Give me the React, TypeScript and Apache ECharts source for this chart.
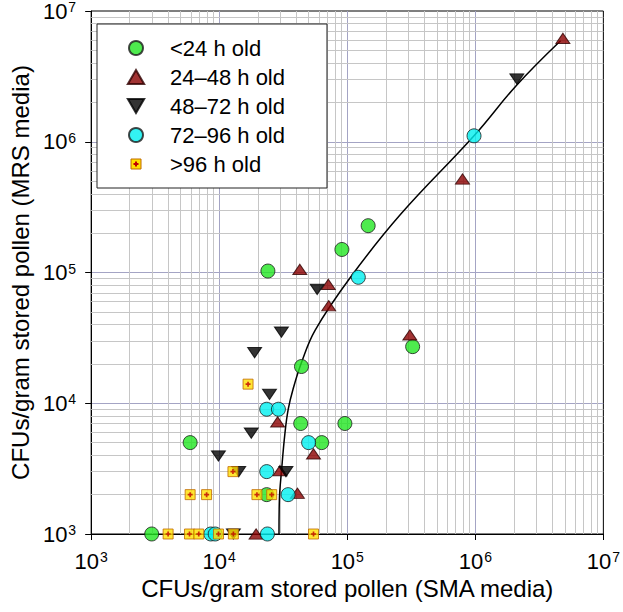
import React, { useEffect, useRef } from "react";
import * as echarts from "echarts";

const FONT = "'Liberation Sans', Arial, Helvetica, sans-serif";

// [SMA CFUs, MRS CFUs]
const lt24: [number, number][] = [
  [2970, 1000], [5930, 5000], [24000, 102600], [23500, 2000], [43900, 19100],
  [43300, 7000], [63200, 5000], [95800, 7000], [90800, 150000], [145600, 228000],
  [324000, 27100],
];
const h24_48: [number, number][] = [
  [4830000, 6180000], [794000, 519000], [308000, 33300], [42600, 105700],
  [71100, 81200], [71600, 55700], [28600, 7200], [54500, 4100], [29800, 3050],
  [40800, 2050], [19400, 1000],
];
const h48_72: [number, number][] = [
  [2110000, 3020000], [58200, 74300], [30600, 35000], [18900, 24400],
  [24700, 11700], [17800, 5900], [9860, 3950], [14200, 3000], [33200, 3000],
  [12900, 1000],
];
const h72_96: [number, number][] = [
  [977000, 1110000], [122000, 91900], [23500, 9000], [29000, 9000],
  [49900, 5000], [23500, 3000], [34500, 2000], [8600, 1000], [9300, 1000],
  [23800, 1000],
];
const gt96: [number, number][] = [
  [16800, 14000], [12800, 3000], [5930, 2000], [7970, 2000], [19700, 2000],
  [25700, 2000], [3990, 1000], [5860, 1000], [6920, 1000], [9870, 1000],
  [12900, 1000], [54500, 1000],
];
const fitCurve: [number, number][] = [
  [29300, 1000], [29500, 1820], [30700, 3080], [32600, 5890], [34600, 9000],
  [37800, 12900], [43900, 20500], [56200, 36300], [106000, 92000],
  [258000, 275000], [977000, 1110000], [2110000, 2720000], [4630000, 5930000],
];

const seriesNames = ["<24 h old", "24\u201348 h old", "48\u201372 h old", "72\u201396 h old", ">96 h old"];
const decades = [1e3, 1e4, 1e5, 1e6];
const minorMultipliers = [2, 3, 4, 5, 6, 7, 8, 9];
const minorValues: number[] = [];
decades.forEach((d) => minorMultipliers.forEach((m) => minorValues.push(d * m)));

const CROSS = "path://M-1,-3H1V-1H3V1H1V3H-1V1H-3V-1H-1Z";
const TRI_UP = "path://M7,0L14,12L0,12Z";
const TRI_DOWN = "path://M0,0L14,0L7,12Z";

const labelFmt = (v: number) => `{b|10}{s|${Math.round(Math.log10(v))}}`;
const rich = {
  b: { fontSize: 22, fontFamily: FONT, color: "#000", lineHeight: 22 },
  s: { fontSize: 14, fontFamily: FONT, color: "#000", verticalAlign: "top", lineHeight: 14, padding: [0, 0, 0, 1] },
};

export default function App() {
  const ref = useRef<HTMLDivElement>(null);
  useEffect(() => {
    document.body.style.margin = "0";
    const chart = echarts.init(ref.current!, null, { renderer: "svg" });
    const axisCommon = {
      type: "log",
      logBase: 10,
      min: 1000,
      max: 1e7,
      axisLine: { show: true, lineStyle: { color: "#000", width: 1 } },
      axisTick: { show: true, inside: false, length: 6, lineStyle: { color: "#000" } },
      splitLine: { show: true, showMinLine: false, showMaxLine: false, lineStyle: { color: "#a4a4c4", width: 1 } },
      minorTick: { show: false },
      nameLocation: "middle",
      nameTextStyle: { fontSize: 24, fontFamily: FONT, color: "#000" },
    };
    const scatterBase = { type: "scatter", z: 3, symbolKeepAspect: true };
    chart.setOption({
      animation: false,
      backgroundColor: "#fff",
      grid: { left: 87, top: 11, right: 17, bottom: 78, show: true, borderColor: "#000", borderWidth: 1, backgroundColor: "transparent" },
      xAxis: {
        ...axisCommon,
        name: "CFUs/gram stored pollen (SMA media)",
        nameGap: 36,
        axisLabel: { formatter: labelFmt, rich, margin: 16 },
      },
      yAxis: {
        ...axisCommon,
        name: "CFUs/gram stored pollen (MRS media)",
        nameGap: 57,
        axisLabel: { formatter: labelFmt, rich, margin: 15 },
      },
      legend: {
        orient: "vertical",
        left: 97,
        top: 24,
        padding: [13, 42, 13, 10],
        itemWidth: 58,
        itemHeight: 14,
        itemGap: 7,
        backgroundColor: "#fff",
        borderColor: "#222",
        borderWidth: 1,
        borderRadius: 0,
        selectedMode: false,
        textStyle: { fontSize: 22, fontFamily: FONT, color: "#000", lineHeight: 22 },
        data: [
          { name: seriesNames[0] },
          { name: seriesNames[1] },
          { name: seriesNames[2] },
          { name: seriesNames[3] },
          { name: seriesNames[4], icon: "none" },
        ],
      },
      graphic: [
        { type: "rect", z: 100, shape: { x: 131, y: 159, width: 10, height: 10 }, style: { fill: "#ffe000", stroke: "#c06a00", lineWidth: 1 } },
        { type: "rect", z: 101, shape: { x: 135, y: 161.5, width: 2, height: 5 }, style: { fill: "#c00000" } },
        { type: "rect", z: 101, shape: { x: 133.5, y: 163, width: 5, height: 2 }, style: { fill: "#c00000" } },
      ],
      series: [
        {
          type: "line",
          name: "minorGrid",
          data: [],
          z: 1,
          silent: true,
          markLine: {
            z: 1,
            silent: true,
            symbol: ["none", "none"],
            label: { show: false },
            lineStyle: { color: "#c6c6c6", width: 1, type: "solid" },
            emphasis: { disabled: true },
            data: [
              ...minorValues.map((v) => ({ xAxis: v })),
              ...minorValues.map((v) => ({ yAxis: v })),
            ],
          },
        },
        {
          type: "line",
          name: "fit",
          data: fitCurve,
          z: 2,
          silent: true,
          smooth: 0.4,
          symbol: "none",
          lineStyle: { color: "#000", width: 1.5 },
        },
        {
          ...scatterBase,
          name: seriesNames[0],
          data: lt24,
          symbol: "circle",
          symbolSize: 14,
          itemStyle: { color: "#22e622", borderColor: "#1a1a1a", borderWidth: 1 },
        },
        {
          ...scatterBase,
          name: seriesNames[1],
          data: h24_48,
          symbol: TRI_UP,
          symbolSize: [14, 12],
          itemStyle: { color: "#8b0000", borderColor: "#300000", borderWidth: 1 },
        },
        {
          ...scatterBase,
          name: seriesNames[2],
          data: h48_72,
          symbol: TRI_DOWN,
          symbolSize: [14, 12],
          itemStyle: { color: "#000", borderColor: "#000", borderWidth: 1 },
        },
        {
          ...scatterBase,
          name: seriesNames[3],
          data: h72_96,
          symbol: "circle",
          symbolSize: 14,
          itemStyle: { color: "#00f0f0", borderColor: "#1a1a1a", borderWidth: 1 },
        },
        {
          ...scatterBase,
          name: seriesNames[4],
          data: gt96,
          symbol: "rect",
          symbolSize: 10,
          itemStyle: { color: "#ffe000", borderColor: "#c06a00", borderWidth: 1 },
        },
        {
          type: "scatter",
          name: "gt96cross",
          data: gt96,
          z: 4,
          silent: true,
          symbol: CROSS,
          symbolSize: 5,
          itemStyle: { color: "#c00000" },
        },
      ],
    });
    return () => chart.dispose();
  }, []);
  return <div ref={ref} style={{ position: "fixed", left: 0, top: 0, width: 623, height: 612 }} />;
}
